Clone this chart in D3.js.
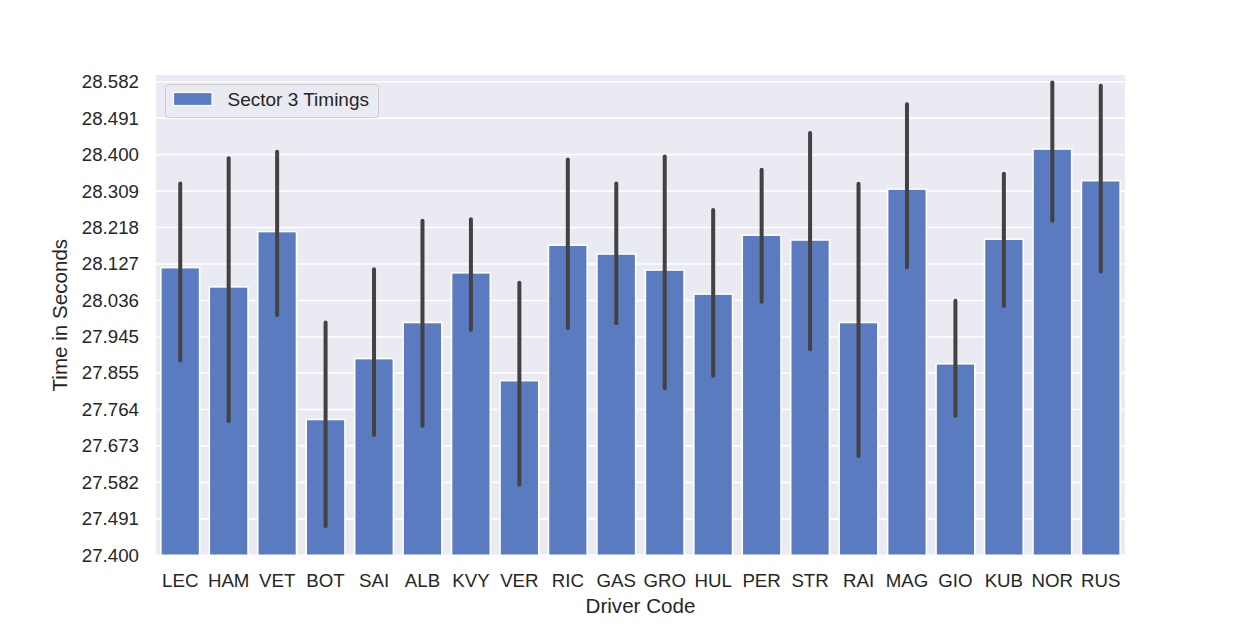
<!DOCTYPE html>
<html>
<head>
<meta charset="utf-8">
<script src="https://cdn.jsdelivr.net/npm/d3@7"></script>
<style>
  body { margin: 0; background: #fff; }
  text { font-family: "Liberation Sans", Arial, sans-serif; fill: #262626; }
</style>
</head>
<body>
<div id="chart"></div>
<script>
// Data
const drivers = ["LEC", "HAM", "VET", "BOT", "SAI", "ALB", "KVY", "VER", "RIC", "GAS",
                 "GRO", "HUL", "PER", "STR", "RAI", "MAG", "GIO", "KUB", "NOR", "RUS"];
const meanTimes = [28.118, 28.070, 28.208, 27.739, 27.891, 27.981, 28.105, 27.836, 28.174, 28.152,
                   28.112, 28.052, 28.199, 28.187, 27.981, 28.314, 27.878, 28.189, 28.414, 28.335];
const ciLow = [27.886, 27.735, 28.000, 27.473, 27.700, 27.723, 27.962, 27.576, 27.967, 27.979,
               27.817, 27.848, 28.033, 27.914, 27.648, 28.118, 27.748, 28.022, 28.235, 28.108];
const ciHigh = [28.328, 28.391, 28.407, 27.981, 28.114, 28.235, 28.239, 28.080, 28.388, 28.328,
                28.395, 28.262, 28.362, 28.454, 28.327, 28.526, 28.035, 28.352, 28.580, 28.572];
const yTicks = [27.400, 27.491, 27.582, 27.673, 27.764, 27.855, 27.945,
                28.036, 28.127, 28.218, 28.309, 28.400, 28.491, 28.582];
const yDomain = [27.4, 28.5987];

const width = 1250, height = 625;
const margin = {top: 75, right: 125, bottom: 69.7, left: 156};
const innerWidth = width - margin.left - margin.right;
const innerHeight = height - margin.top - margin.bottom;

const svg = d3.select("#chart").append("svg")
    .attr("width", width)
    .attr("height", height);

const g = svg.append("g")
    .attr("transform", `translate(${margin.left},${margin.top})`);

// Scales
const x = d3.scaleBand().domain(drivers).range([0, innerWidth]).paddingInner(0.2).paddingOuter(0.1);
const y = d3.scaleLinear().domain(yDomain).range([innerHeight, 0]);

// Background
g.append("rect")
    .attr("width", innerWidth)
    .attr("height", innerHeight)
    .attr("fill", "#eaeaf2");

// Horizontal grid
g.selectAll(".grid")
    .data(yTicks)
    .join("line")
    .attr("x1", 0).attr("x2", innerWidth)
    .attr("y1", d => y(d)).attr("y2", d => y(d))
    .attr("stroke", "#fff")
    .attr("stroke-width", 1.6);

// Bars
g.selectAll(".bar")
    .data(drivers)
    .join("rect")
    .attr("x", d => x(d))
    .attr("width", x.bandwidth())
    .attr("y", (d, i) => y(meanTimes[i]))
    .attr("height", (d, i) => y(yDomain[0]) - y(meanTimes[i]))
    .attr("fill", "#5a7bc0")
    .attr("stroke", "#fff")
    .attr("stroke-width", 1.6);

// Error bars
g.selectAll(".err")
    .data(drivers)
    .join("line")
    .attr("x1", d => x(d) + x.bandwidth() / 2)
    .attr("x2", d => x(d) + x.bandwidth() / 2)
    .attr("y1", (d, i) => y(ciLow[i]))
    .attr("y2", (d, i) => y(ciHigh[i]))
    .attr("stroke", "#424242")
    .attr("stroke-width", 4)
    .attr("stroke-linecap", "round");

// Axes
const yAxis = d3.axisLeft(y).tickValues(yTicks).tickFormat(d3.format(".3f")).tickSize(0).tickPadding(17);
g.append("g")
    .attr("font-size", 18.7)
    .attr("font-family", "Liberation Sans, Arial, sans-serif")
    .call(yAxis)
    .attr("font-size", 18.7)
    .attr("font-family", "Liberation Sans, Arial, sans-serif")
    .call(a => a.select(".domain").remove())
    .selectAll("text")
    .attr("fill", "#262626");

const xAxis = d3.axisBottom(x).tickSize(0).tickPadding(18);
g.append("g")
    .attr("transform", `translate(0,${innerHeight})`)
    .call(xAxis)
    .attr("font-size", 18.7)
    .attr("font-family", "Liberation Sans, Arial, sans-serif")
    .call(a => a.select(".domain").remove())
    .selectAll("text")
    .attr("fill", "#262626");

// Axis labels
svg.append("text")
    .attr("x", margin.left + innerWidth / 2)
    .attr("y", 613)
    .attr("text-anchor", "middle")
    .attr("font-size", "20.6px")
    .text("Driver Code");

svg.append("text")
    .attr("transform", `translate(67,${margin.top + innerHeight / 2}) rotate(-90)`)
    .attr("text-anchor", "middle")
    .attr("font-size", "20.6px")
    .text("Time in Seconds");

// Legend
const legend = svg.append("g");
legend.append("rect")
    .attr("x", 165.5).attr("y", 84.5)
    .attr("width", 213).attr("height", 33)
    .attr("rx", 3)
    .attr("fill", "#eaeaf2")
    .attr("fill-opacity", 0.8)
    .attr("stroke", "#cccccc")
    .attr("stroke-width", 1);
legend.append("rect")
    .attr("x", 173.5).attr("y", 92.5)
    .attr("width", 38.5).attr("height", 13)
    .attr("fill", "#5a7bc0")
    .attr("stroke", "#fff")
    .attr("stroke-width", 1.2);
legend.append("text")
    .attr("x", 227.5).attr("y", 105.5)
    .attr("font-size", "19px")
    .text("Sector 3 Timings");
</script>
</body>
</html>
